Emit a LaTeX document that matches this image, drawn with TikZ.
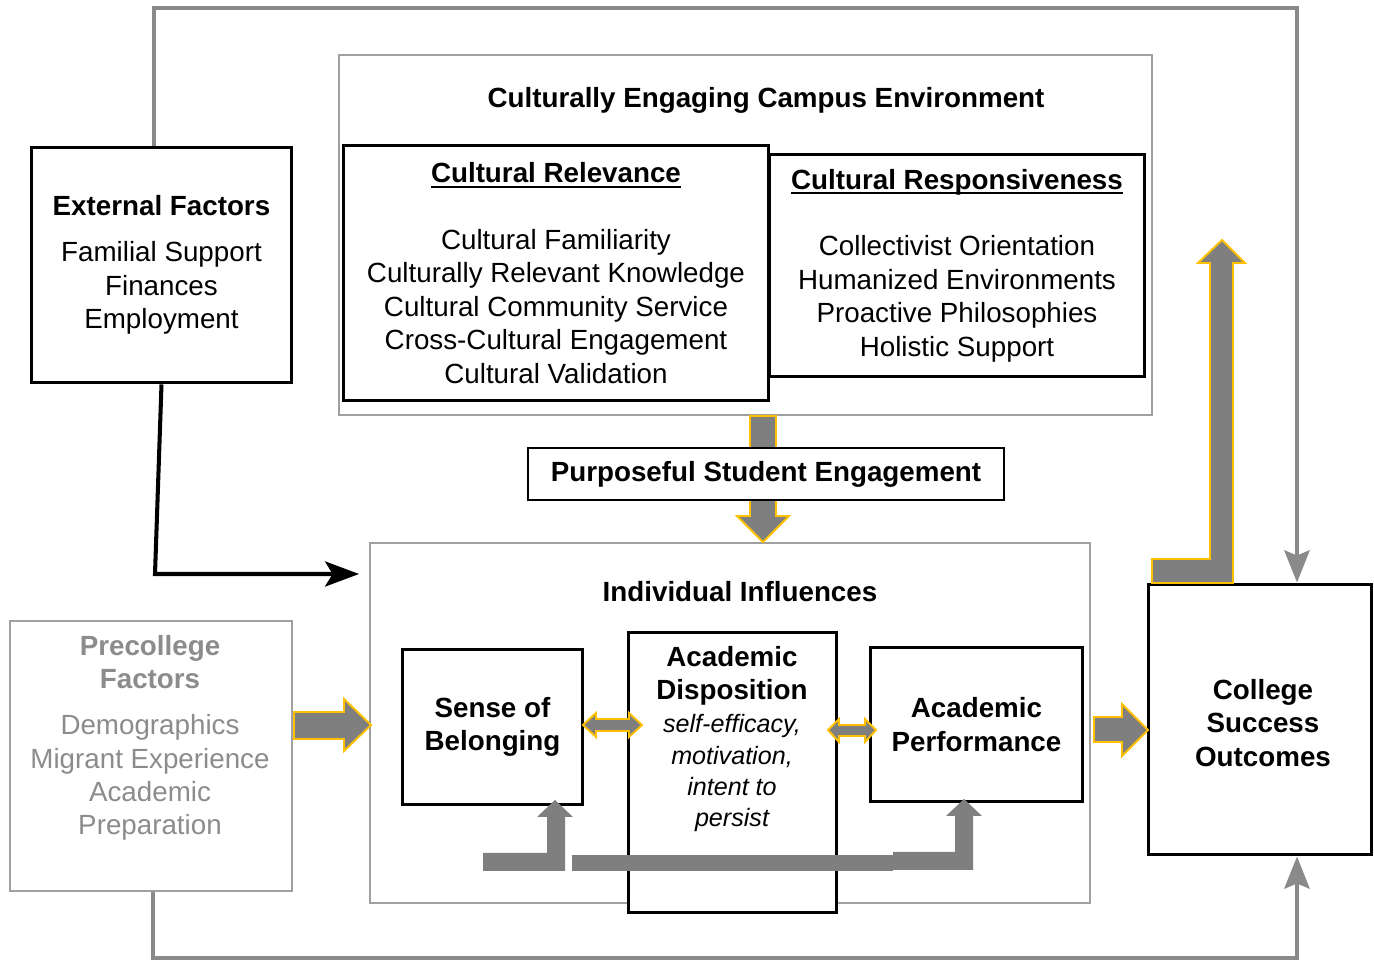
\documentclass[tikz,border=0pt]{standalone}
\usepackage{fontspec}
\setmainfont{Liberation Sans}
\usetikzlibrary{arrows.meta}
\definecolor{arrowgray}{HTML}{7F7F7F}
\definecolor{linegray}{HTML}{8A8A8A}
\definecolor{framegray}{HTML}{A0A0A0}
\definecolor{pregray}{HTML}{8C8C8C}
\definecolor{gold}{HTML}{FFC000}
% heavy underline close to the baseline
\newcommand\titleline[1]{\sbox0{#1}\rlap{\rule[-2.8pt]{\wd0}{1.2pt}}\usebox0}

\begin{document}
\begin{tikzpicture}[x=0.02cm, y=-0.02cm, font=\fontsize{15.8}{19}\selectfont]
            \tikzset{box/.style = {shape=rectangle, draw, line width=1.7pt, fill=white, align=center}}
            \tikzset{frame/.style = {shape=rectangle, draw=framegray, line width=1.1pt}}
            \tikzset{heading/.style = {font=\fontsize{15.8}{19}\selectfont\bfseries, align=center}}
            \tikzset{blockarrow/.style = {fill=arrowgray, draw=gold, line width=1.1pt}}
            \tikzset{feedback/.style = {draw=linegray, line width=2.8pt, -{Stealth[length=0.64cm, width=0.5cm, inset=0.1cm]}}}
            \tikzset{edge/.style = {line width=2.3pt, -{Stealth[length=0.68cm, width=0.5cm, inset=0.15cm]}}}
            \useasboundingbox (0,0) rectangle (1374,962);

            % outer frames
            \node[frame, minimum width=16.26cm, minimum height=7.2cm] (env) at (745.5,235) {};
            \node[heading] (envtitle) at (766,100) {Culturally Engaging Campus Environment};
            \node[frame, minimum width=14.4cm, minimum height=7.2cm] (ind) at (730,723) {};
            \node[heading] (indtitle) at (740,592) {Individual Influences};

            % engagement arrow, behind the box
            \draw[blockarrow] (750,416) -- (776,416) -- (776,516) -- (789,516) -- (763,542) -- (737,516) -- (750,516) -- cycle;
            \node[box, heading, line width=1pt, minimum width=9.52cm, minimum height=1.04cm] (pse) at (766,474) {Purposeful Student Engagement};

            \node[box, minimum width=5.22cm, minimum height=4.72cm] (ext) at (161.5,265) {\textbf{External Factors}\\[7pt] Familial Support\\ Finances\\ Employment};
            \node[box, minimum width=8.52cm, minimum height=5.12cm] (rel) at (556,273) {\textbf{\titleline{Cultural Relevance}}\\[19pt] Cultural Familiarity\\ Culturally Relevant Knowledge\\ Cultural Community Service\\ Cross-Cultural Engagement\\ Cultural Validation};
            \node[box, minimum width=7.52cm, minimum height=4.46cm] (resp) at (957,265.5) {\textbf{\titleline{Cultural Responsiveness}}\\[19pt] Collectivist Orientation\\ Humanized Environments\\ Proactive Philosophies\\ Holistic Support};

            \node[box, heading, minimum width=3.62cm, minimum height=3.12cm] (sob) at (492.5,727) {Sense of\\ Belonging};
            \node[box, minimum width=4.18cm, minimum height=5.62cm] (disp) at (732.5,772.5) {};
            \node[align=center] (disptext) at (732,739) {\textbf{Academic}\\ \textbf{Disposition}\\ {\fontsize{14.3}{17.9}\selectfont\itshape self-efficacy,}\\[-1.2pt] {\fontsize{14.3}{17.9}\selectfont\itshape motivation,}\\[-1.2pt] {\fontsize{14.3}{17.9}\selectfont\itshape intent to}\\[-1.2pt] {\fontsize{14.3}{17.9}\selectfont\itshape persist}};
            \node[box, heading, minimum width=4.26cm, minimum height=3.1cm] (perf) at (976.5,724.5) {Academic\\ Performance};

            \node[box, draw=framegray, line width=1.4pt, minimum width=5.64cm, minimum height=5.4cm] (pre) at (151,756) {};
            \node[align=center, text=pregray] (pretext) at (150,738) {\textbf{Precollege}\\ \textbf{Factors}\\[7pt] Demographics\\ Migrant Experience\\ Academic\\ Preparation};
            \node[box, heading, minimum width=4.48cm, minimum height=5.42cm] (out) at (1260,719.5) {};
            \node[heading] (outtext) at (1263,723) {College\\ Success\\ Outcomes};

            % block arrows
            \draw[blockarrow] (294,712) -- (344,712) -- (344,699) -- (371,725) -- (344,751) -- (344,739) -- (294,739) -- cycle;
            \draw[blockarrow] (1094,717) -- (1122,717) -- (1122,704) -- (1148,730) -- (1122,756) -- (1122,742) -- (1094,742) -- cycle;
            \draw[blockarrow] (583,725) -- (596,713) -- (596,719) -- (629,719) -- (629,713) -- (642,725) -- (629,737) -- (629,731) -- (596,731) -- (596,737) -- cycle;
            \draw[blockarrow] (828,730) -- (839,719) -- (839,725) -- (865,725) -- (865,719) -- (876,730) -- (865,742) -- (865,736) -- (839,736) -- (839,742) -- cycle;
            \draw[blockarrow] (1152,559) -- (1210,559) -- (1210,263) -- (1198,263) -- (1222,240) -- (1245,263) -- (1233,263) -- (1233,583) -- (1152,583) -- cycle;

            % feedback bars
            \fill[arrowgray] (483,853) -- (547,853) -- (547,817) -- (537,817) -- (555,800) -- (573,817) -- (565,817) -- (565,871) -- (483,871) -- cycle;
            \fill[arrowgray] (572,855) rectangle (893,871);
            \fill[arrowgray] (893,852) -- (955,852) -- (955,816) -- (946,816) -- (964,799) -- (982,816) -- (973,816) -- (973,870) -- (893,870) -- cycle;

            % connectors
            \coordinate (extbend) at (155,574);
            \draw[edge, shorten >=0.2cm] (ext.south) -- (extbend) -- (extbend -| ind.west);

            \coordinate (topleft) at (154,8);
            \coordinate (topright) at (1297,8);
            \draw[feedback] (ext.north -| topleft) -- (topleft) -- (topright) -- (topright |- out.north);
            \coordinate (botleft) at (153,958);
            \coordinate (botright) at (1297,958);
            \draw[feedback] (pre.south -| botleft) -- (botleft) -- (botright) -- (botright |- out.south);
        \end{tikzpicture}
\end{document}
